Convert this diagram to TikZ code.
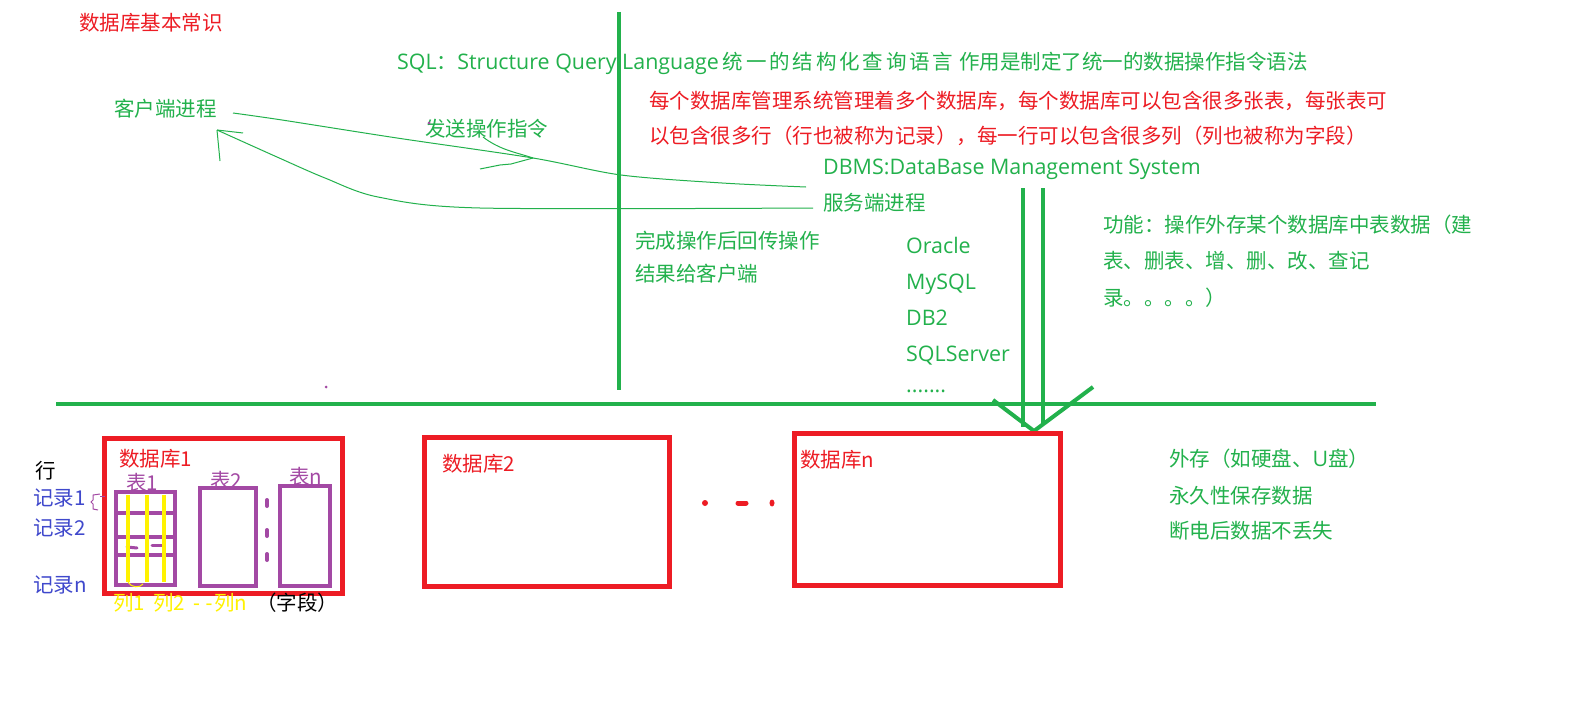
\documentclass[tikz,border=0pt]{standalone}
\usepackage{fontspec}
\setmainfont{Noto Sans CJK SC}
\newfontfamily\lat[Scale=1.045]{Open Sans}
\definecolor{pg}{HTML}{22B14C}
\definecolor{pr}{HTML}{ED1C24}
\definecolor{pp}{HTML}{A349A4}
\definecolor{py}{HTML}{FFF200}
\definecolor{pb}{HTML}{3F48CC}
\newcommand{\ks}{\kern2.8pt}
\begin{document}
\begin{tikzpicture}[x=1pt,y=-1pt,
  txt/.style={anchor=west,inner sep=0pt,yshift=-5pt,font=\fontsize{20.5}{24}\selectfont,text height=0.85em,text depth=0.2em},
  gtxt/.style={txt,text=pg},
  rtxt/.style={txt,text=pr},
  ptxt/.style={txt,text=pp},
  btxt/.style={txt,text=pb},
  ytxt/.style={txt,text=py},
  thick line/.style={line width=4pt,pg},
  thin line/.style={line width=1pt,pg},
  dbbox/.style={line width=5pt,pr},
  tbbox/.style={line width=4pt,pp},
  colline/.style={line width=4pt,py}]
\useasboundingbox[fill=white] (0,0) rectangle (1587,701);

% texts
\node[rtxt] (title) at (79,22) {数据库基本常识};
\node[gtxt] (sql) at (397,61) {{\lat SQL}：{\lat Structure Query Language}\kern4pt 统\ks 一\ks 的\ks 结\ks 构\ks 化\ks 查\ks 询\ks 语\ks 言\kern6pt 作用是制定了统一的数据操作指令语法};
\node[rtxt] (r1) at (649,100) {每个数据库管理系统管理着多个数据库，每个数据库可以包含很多张表，每张表可};
\node[rtxt] (r2) at (649,135) {以包含很多行（行也被称为记录），每一行可以包含很多列（列也被称为字段）};
\node[gtxt] (client) at (114,108) {客户端进程};
\node[gtxt] (send) at (425,128) {发送操作指令};
\node[gtxt] (dbms) at (823,166) {\lat DBMS:DataBase Management System};
\node[gtxt] (server) at (823,202) {服务端进程};
\node[gtxt] (ret1) at (635,240) {完成操作后回传操作};
\node[gtxt] (ret2) at (635,273) {结果给客户端};
\node[gtxt] (ora) at (906,245) {\lat Oracle};
\node[gtxt] (my) at (906,281) {\lat MySQL};
\node[gtxt] (db2) at (906,317) {\lat DB2};
\node[gtxt] (ss) at (906,353) {\lat SQLServer};
\node[gtxt] (dots) at (906,384) {\lat .......};
\node[gtxt] (f1) at (1103,224) {功能：操作外存某个数据库中表数据（建};
\node[gtxt] (f2) at (1103,260) {表、删表、增、删、改、查记};
\node[gtxt] (f3) at (1103,297) {录。。。。）};
\node[gtxt] (w1) at (1169,458) {外存（如硬盘、{\lat U}盘）};
\node[gtxt] (w2) at (1169,495) {永久性保存数据};
\node[gtxt] (w3) at (1169,530) {断电后数据不丢失};

% thick green lines
\coordinate (vtop) at (619,12);
\coordinate (vbot) at (619,390);
\draw[thick line] (vtop) -- (vbot);
\coordinate (hl) at (56,404);
\coordinate (hr) at (1376,404);
\draw[thick line] (hl) -- (hr);
\coordinate (a1t) at (1023,188);
\coordinate (a1b) at (1023,427);
\coordinate (a2t) at (1043,188);
\coordinate (a2b) at (1043,424);
\draw[line width=3.5pt,pg] (a1t) -- (a1b);
\draw[line width=3.5pt,pg] (a2t) -- (a2b);
\coordinate (vl) at (993,400);
\coordinate (vtip) at (1034,431);
\coordinate (vr) at (1093,387);
\draw[thick line,line join=round] (vl) -- (vtip) -- (vr);

% thin hand-drawn arrows
\coordinate (sendstart) at (233,113);
\coordinate (sendend) at (806,187);
\draw[thin line] plot[smooth,tension=0.5] coordinates {(sendstart) (282,120) (397,138) (533,158) (621,175) (722,183) (sendend)};
\coordinate (sendtip) at (533,158);
\draw[thin line] (483,137) .. controls (500,150) and (515,152) .. (sendtip);
\draw[thin line] (480,169) -- (500,165) -- (511,164) -- (sendtip);
\coordinate (retstart) at (813,208);
\coordinate (retmid) at (480,208);
\coordinate (rettip) at (217,130);
\draw[thin line] plot[smooth,tension=0.5] coordinates {(retstart) (retmid) (378,197) (325,178) (277,157) (rettip)};
\draw[thin line] (rettip) -- (243,133);
\draw[thin line] (rettip) -- (220,161);

% database boxes
\draw[dbbox] (104.5,438.5) rectangle (342.5,593.5);
\draw[dbbox] (424.5,437.5) rectangle (669.5,586.5);
\draw[dbbox] (794.5,433.5) rectangle (1060.5,585.5);
\node[rtxt] (db1l) at (119,458) {数据库1};
\node[rtxt] (db2l) at (442,463) {数据库2};
\node[rtxt] (dbnl) at (800,459) {数据库n};
\fill[pr] (705,503) circle (3pt);
\draw[line width=5pt,pr,line cap=round] (738,503) -- (746,503);
\fill[pr] (772,503) ellipse (2.5pt and 3.5pt);

% tables
\draw[tbbox] (116,492) rectangle (175,585);
\draw[tbbox] (116,513) -- (175,513);
\draw[tbbox] (116,537) -- (175,537);
\draw[tbbox] (116,555) -- (175,555);
\draw[line width=3pt,pp,line cap=round] (127,547) -- (137,548);
\draw[line width=3pt,pp,line cap=round] (152,545) -- (162,545);
\draw[tbbox] (200,488) rectangle (256,586);
\draw[tbbox] (280,486) rectangle (330,586);
\foreach \yy in {499,529,553}
  \draw[line width=4pt,pp,line cap=round] (267,\yy+1) -- (267,\yy+7);
\draw[colline] (128,495) -- (128,582);
\draw[colline] (147,495) -- (147,582);
\draw[colline] (164,495) -- (164,582);
\draw[line width=1pt,py] (128,582) .. controls (131,588) and (140,588) .. (143,584);
\node[ptxt] (t1) at (126,482) {表1};
\node[ptxt] (t2) at (210,480) {表2};
\node[ptxt] (tn) at (289,476) {表n};

% row labels
\node[txt] (hang) at (35,470) {行};
\node[btxt] (rec1) at (33,497) {记录1};
\node[btxt] (rec2) at (33,527) {记录2};
\node[btxt] (recn) at (33,584) {记录n};
\draw[line width=1pt,pp] (100,494) -- (93,495) -- (93,500) -- (91,502) -- (93,504) -- (93,509) -- (98,510);
\draw[line width=1pt,pp] (100,496) -- (105,496);

% column labels
\node[ytxt] (c1) at (113,602) {列1};
\node[ytxt] (c2) at (153,602) {列2};
\node[ytxt] (cd) at (193,602) {\lat - -};
\node[ytxt] (cn) at (214,602) {列n};
\node[txt] (zd) at (256,602) {（字段）};

% stray dots
\fill[pp] (429,123) circle (1.5pt);
\fill[pp] (326,387) circle (1.5pt);
\end{tikzpicture}
\end{document}
